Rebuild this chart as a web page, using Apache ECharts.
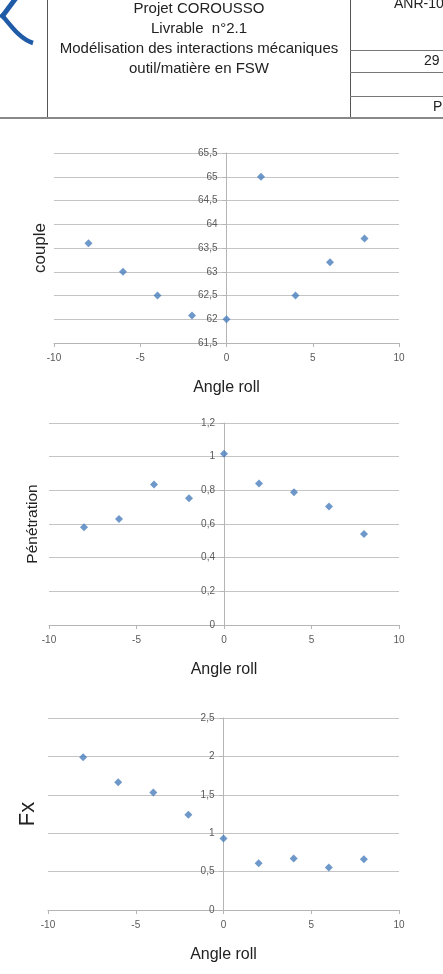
<!DOCTYPE html>
<html>
<head>
<meta charset="utf-8">
<script src="https://cdn.jsdelivr.net/npm/echarts@6/dist/echarts.min.js"></script>
<style>
html,body{margin:0;padding:0;background:#fff;}
#chart{width:443px;height:974px;}
</style>
</head>
<body>
<div id="chart"></div>
<script>
// ---- data ----
const angleRoll = [-8, -6, -4, -2, 0, 2, 4, 6, 8];
const couple = [63.6, 63.0, 62.5, 62.08, 62.0, 65.0, 62.5, 63.2, 63.7];
const penetration = [0.58, 0.63, 0.835, 0.753, 1.018, 0.84, 0.788, 0.704, 0.541];
const fx = [1.99, 1.665, 1.53, 1.24, 0.93, 0.608, 0.672, 0.552, 0.66];
const xTitle = 'Angle roll';
const yTitles = ['couple', 'Pénétration', 'Fx'];
const headerLines = ['Projet COROUSSO', 'Livrable  n°2.1', 'Modélisation des interactions mécaniques', 'outil/matière en FSW'];
const headerRight = ['ANR-10', '29', 'Page'];

const W = 443;
const chart = echarts.init(document.getElementById('chart'), null, {renderer: 'canvas'});

const gridCol = '#c4c4c4';
const axisCol = '#b5b5b5';
const labCol = '#595959';
const markCol = '#4a7ebb';
const fmt = v => String(+v.toFixed(2)).replace('.', ',');

const grids = [
  {left: 54, right: 44, top: 153, height: 190},
  {left: 49, right: 44, top: 423, height: 202},
  {left: 48, right: 44, top: 718, height: 192}
];

function xAx(gi) {
  return {
    type: 'value', gridIndex: gi, min: -10, max: 10, interval: 5,
    name: xTitle, nameLocation: 'middle', nameGap: 37,
    nameTextStyle: {fontFamily: 'Liberation Sans', fontSize: 16, color: '#222'},
    axisLine: {show: true, onZero: false, lineStyle: {color: axisCol, width: 1}},
    axisTick: {show: true, length: 4, lineStyle: {color: axisCol}},
    axisLabel: {fontFamily: 'Liberation Sans', fontSize: 10, color: labCol, margin: 10, formatter: fmt},
    splitLine: {show: false}
  };
}
function yAx(gi, min, max, interval, name, nameSize, gap) {
  const g = grids[gi];
  const w = W - g.left - g.right;
  return {
    type: 'value', gridIndex: gi, min: min, max: max, interval: interval,
    offset: -w / 2,
    name: name, nameLocation: 'middle', nameGap: gap,
    nameTextStyle: {fontFamily: 'Liberation Sans', fontSize: nameSize, color: '#222'},
    axisLine: {show: true, onZero: false, lineStyle: {color: axisCol, width: 1}},
    axisTick: {show: true, length: 4, lineStyle: {color: axisCol}},
    axisLabel: {fontFamily: 'Liberation Sans', fontSize: 10, color: labCol, margin: 9, formatter: fmt},
    splitLine: {show: true, lineStyle: {color: gridCol, width: 1}}
  };
}
function ser(gi, vals) {
  return {
    type: 'scatter', xAxisIndex: gi, yAxisIndex: gi,
    symbol: 'diamond', symbolSize: [8, 8],
    itemStyle: {color: markCol},
    data: angleRoll.map((a, i) => [a, vals[i]])
  };
}

const gfx = [];
// logo
gfx.push({type: 'line', shape: {x1: 16, y1: -2, x2: 1, y2: 18}, style: {stroke: '#1f5ba6', lineWidth: 5, lineCap: 'butt'}});
gfx.push({type: 'bezierCurve', shape: {x1: 1, y1: 14, cpx1: 12, cpy1: 27, cpx2: 20, cpy2: 39, x2: 33, y2: 43}, style: {stroke: '#1f5ba6', lineWidth: 4.5, fill: 'none'}});
// header table lines
const lineStyle = {stroke: '#555', lineWidth: 1};
gfx.push({type: 'line', shape: {x1: 47.5, y1: 0, x2: 47.5, y2: 117}, style: lineStyle});
gfx.push({type: 'line', shape: {x1: 350.5, y1: 0, x2: 350.5, y2: 117}, style: lineStyle});
gfx.push({type: 'line', shape: {x1: 350, y1: 50.5, x2: 443, y2: 50.5}, style: {stroke: '#777', lineWidth: 1}});
gfx.push({type: 'line', shape: {x1: 350, y1: 72.5, x2: 443, y2: 72.5}, style: {stroke: '#777', lineWidth: 1}});
gfx.push({type: 'line', shape: {x1: 350, y1: 96.5, x2: 443, y2: 96.5}, style: {stroke: '#777', lineWidth: 1}});
gfx.push({type: 'line', shape: {x1: 0, y1: 118, x2: 443, y2: 118}, style: {stroke: '#888', lineWidth: 2}});
const hy = [9, 29, 49, 69];
headerLines.forEach((t, i) => {
  gfx.push({type: 'text', style: {text: t, x: 199, y: hy[i], font: '15px "Liberation Sans"', fill: '#222',
    align: 'center', verticalAlign: 'middle', textAlign: 'center', textVerticalAlign: 'middle'}});
});
const rx = [394, 424, 433], ry = [4, 61, 107];
headerRight.forEach((t, i) => {
  gfx.push({type: 'text', style: {text: t, x: rx[i], y: ry[i], font: '14px "Liberation Sans"', fill: '#222',
    align: 'left', verticalAlign: 'middle', textAlign: 'left', textVerticalAlign: 'middle'}});
});

const option = {
  animation: false,
  backgroundColor: '#fff',
  grid: grids.map(g => Object.assign({containLabel: false, outerBoundsMode: 'none'}, g)),
  xAxis: [xAx(0), xAx(1), xAx(2)],
  yAxis: [
    yAx(0, 61.5, 65.5, 0.5, yTitles[0], 17, 178),
    yAx(1, 0, 1.2, 0.2, yTitles[1], 15.5, 183),
    yAx(2, 0, 2.5, 0.5, yTitles[2], 22, 185)
  ],
  series: [ser(0, couple), ser(1, penetration), ser(2, fx)],
  graphic: {elements: gfx}
};
chart.setOption(option);
</script>
</body>
</html>
